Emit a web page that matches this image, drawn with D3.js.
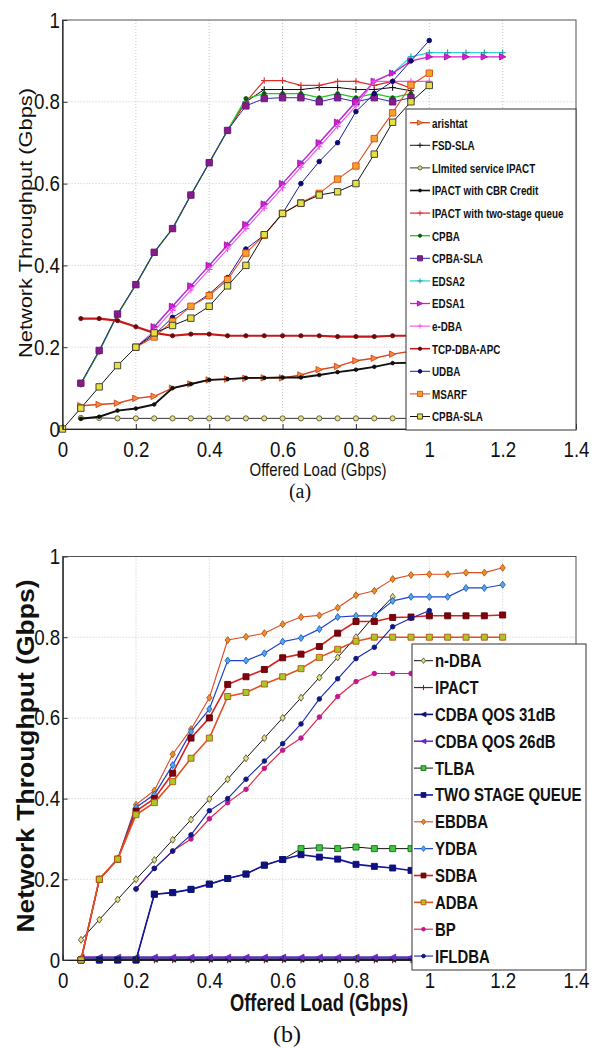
<!DOCTYPE html>
<html><head><meta charset="utf-8">
<script src="https://cdn.jsdelivr.net/npm/d3@7"></script>
<style>
html,body{margin:0;padding:0;background:#fff;}
svg{display:block;}
</style></head><body><svg id="c" width="600" height="1048"></svg>
<script>
// ---------- shared data ----------
const loads = [0,0.05,0.1,0.15,0.2,0.25,0.3,0.35,0.4,0.45,0.5,0.55,0.6,0.65,0.7,0.75,0.8,0.85,0.9,0.95,1.0,1.05,1.1,1.15,1.2];
const xTicks = [0,0.2,0.4,0.6,0.8,1,1.2,1.4];
const xTickLabels = ["0","0.2","0.4","0.6","0.8","1","1.2","1.4"];
const yTicks = [0,0.2,0.4,0.6,0.8,1];
const yTickLabels = ["0","0.2","0.4","0.6","0.8","1"];

// ---------- panel (a) data ----------
const namesA = ["arishtat","FSD-SLA","LImited service IPACT","IPACT with CBR Credit","IPACT with two-stage queue","CPBA","CPBA-SLA","EDSA2","EDSA1","e-DBA","TCP-DBA-APC","UDBA","MSARF","CPBA-SLA"];
const startA = [1,1,1,1,1,1,1,5,5,4,1,4,4,0];
const a_arishtat = [0.057,0.06,0.063,0.075,0.08,0.10,0.11,0.12,0.122,0.124,0.125,0.125,0.132,0.145,0.153,0.167,0.173,0.183,0.19];
const a_fsdsla = [0.11,0.19,0.28,0.353,0.432,0.49,0.572,0.651,0.73,0.80,0.83,0.83,0.83,0.835,0.835,0.83,0.83,0.835,0.827];
const a_limited = [0.027,0.027,0.026,0.026,0.026,0.026,0.026,0.026,0.026,0.026,0.026,0.026,0.026,0.026,0.026,0.026,0.026,0.026,0.026];
const a_cbr = [0.025,0.03,0.045,0.05,0.06,0.10,0.11,0.12,0.122,0.125,0.125,0.126,0.126,0.132,0.139,0.145,0.152,0.161,0.162];
const a_twostage = [0.11,0.19,0.28,0.353,0.432,0.49,0.572,0.651,0.73,0.80,0.852,0.852,0.84,0.84,0.85,0.85,0.84,0.85,0.833];
const a_cpba = [0.11,0.19,0.28,0.353,0.432,0.49,0.572,0.651,0.73,0.808,0.82,0.82,0.82,0.81,0.82,0.81,0.82,0.81,0.82];
const a_cpbasla = [0.112,0.192,0.281,0.353,0.432,0.49,0.572,0.651,0.73,0.79,0.808,0.81,0.81,0.80,0.81,0.80,0.81,0.80,0.81];
const a_edsa2 = [0.25,0.30,0.35,0.40,0.45,0.50,0.55,0.60,0.65,0.70,0.75,0.80,0.85,0.87,0.91,0.92,0.92,0.92,0.92,0.92];
const a_edsa1 = [0.25,0.30,0.35,0.40,0.45,0.50,0.55,0.60,0.65,0.70,0.75,0.80,0.85,0.87,0.90,0.91,0.91,0.91,0.91,0.91];
const a_edba = [0.20,0.24,0.29,0.34,0.39,0.44,0.49,0.54,0.59,0.64,0.69,0.74,0.79,0.85,0.85,0.85,0.85];
const a_tcp = [0.27,0.27,0.265,0.25,0.235,0.228,0.232,0.232,0.228,0.228,0.228,0.228,0.228,0.228,0.226,0.226,0.226,0.228,0.228];
const a_udba = [0.20,0.23,0.273,0.30,0.33,0.37,0.44,0.474,0.527,0.60,0.654,0.70,0.776,0.82,0.85,0.90,0.95];
const a_msarf = [0.20,0.225,0.263,0.30,0.326,0.365,0.43,0.474,0.527,0.553,0.576,0.611,0.643,0.71,0.773,0.841,0.87];
const a_cpbasla2 = [0,0.051,0.103,0.155,0.2,0.235,0.253,0.271,0.30,0.35,0.40,0.475,0.527,0.552,0.572,0.58,0.60,0.672,0.75,0.80,0.84];
const valuesA = [a_arishtat,a_fsdsla,a_limited,a_cbr,a_twostage,a_cpba,a_cpbasla,a_edsa2,a_edsa1,a_edba,a_tcp,a_udba,a_msarf,a_cpbasla2];

// ---------- panel (b) data ----------
const namesB = ["n-DBA","IPACT","CDBA QOS 31dB","CDBA QOS 26dB","TLBA","TWO STAGE QUEUE","EBDBA","YDBA","SDBA","ADBA","BP","IFLDBA"];
const startB = [1,1,1,1,1,1,1,1,1,1,4,4];
const b_ndba = [0.05,0.10,0.15,0.20,0.248,0.298,0.348,0.399,0.448,0.50,0.55,0.60,0.65,0.70,0.75,0.80,0.853,0.90];
const b_ipact = [0,0,0,0,0,0,0,0,0,0,0,0,0,0,0,0,0,0,0];
const b_cdba31 = [0.002,0.002,0.002,0.002,0.002,0.002,0.002,0.002,0.002,0.002,0.002,0.002,0.002,0.002,0.002,0.002,0.002,0.002,0.002];
const b_cdba26 = [0.007,0.007,0.007,0.007,0.007,0.007,0.007,0.007,0.007,0.007,0.007,0.007,0.007,0.007,0.007,0.007,0.007,0.007,0.007];
const b_tlba = [0,0,0,0,0.163,0.167,0.175,0.188,0.202,0.213,0.235,0.249,0.276,0.278,0.276,0.28,0.276,0.276,0.276];
const b_twostage = [0,0,0,0,0.163,0.167,0.175,0.188,0.202,0.213,0.235,0.249,0.261,0.255,0.25,0.237,0.232,0.228,0.222];
const b_ebdba = [0,0.20,0.25,0.385,0.42,0.51,0.572,0.65,0.793,0.801,0.81,0.832,0.85,0.854,0.873,0.904,0.915,0.944,0.954,0.956,0.956,0.96,0.96,0.972];
const b_ydba = [0,0.20,0.25,0.378,0.41,0.483,0.566,0.622,0.742,0.742,0.76,0.789,0.798,0.82,0.85,0.853,0.853,0.89,0.90,0.90,0.90,0.922,0.922,0.93];
const b_sdba = [0,0.20,0.25,0.369,0.40,0.463,0.55,0.60,0.683,0.702,0.72,0.749,0.758,0.777,0.81,0.839,0.839,0.849,0.85,0.853,0.853,0.853,0.853,0.855];
const b_adba = [0,0.20,0.25,0.36,0.39,0.442,0.50,0.55,0.653,0.663,0.684,0.702,0.722,0.75,0.77,0.79,0.80,0.80,0.80,0.80,0.80,0.80,0.80,0.80];
const b_bp = [0.176,0.227,0.27,0.30,0.35,0.39,0.423,0.475,0.52,0.55,0.602,0.653,0.69,0.71,0.71,0.71];
const b_ifldba = [0.176,0.227,0.27,0.31,0.37,0.40,0.448,0.493,0.536,0.585,0.647,0.697,0.747,0.775,0.826,0.847,0.866];
const valuesB = [b_ndba,b_ipact,b_cdba31,b_cdba26,b_tlba,b_twostage,b_ebdba,b_ydba,b_sdba,b_adba,b_bp,b_ifldba];

// ---------- styles ----------
const styleA = [
  {c:'#d9461c', w:1.4, m:'triR', mf:'#f08a3c', ms:'#d9461c', s:3.2},
  {c:'#111', w:1, m:'plus', mf:'none', ms:'#111', s:3.2},
  {c:'#333', w:1, m:'circle', mf:'#e8e070', ms:'#555', s:2.6},
  {c:'#111', w:1.9, m:'dot', mf:'#111', ms:'#111', s:1.8},
  {c:'#e02a2a', w:1.2, m:'plus', mf:'none', ms:'#e02a2a', s:3.2},
  {c:'#1ec81e', w:1.3, m:'dot', mf:'#0a5a0a', ms:'#0a5a0a', s:2},
  {c:'#2a2ab0', w:1, m:'square', mf:'#8a1a8a', ms:'#5a1a7a', s:3.2},
  {c:'#33d6d6', w:1.3, m:'plus', mf:'none', ms:'#1a9a9a', s:3.2},
  {c:'#d41ed4', w:1.3, m:'triR', mf:'#d41ed4', ms:'#b010b0', s:3.2},
  {c:'#f050f0', w:1.1, m:'plus', mf:'none', ms:'#f050f0', s:3.2},
  {c:'#c81818', w:2.2, m:'dot', mf:'#6a0a0a', ms:'#6a0a0a', s:2.1},
  {c:'#1a1aa0', w:1, m:'dot', mf:'#0a0a70', ms:'#0a0a70', s:2.3},
  {c:'#e0501e', w:1.1, m:'square', mf:'#f5a030', ms:'#d05010', s:3.2},
  {c:'#111', w:1, m:'square', mf:'#e8e040', ms:'#333', s:3.2}
];
const styleB = [
  {c:'#111', w:1, m:'diamond', mf:'#e8e070', ms:'#555', s:2.6},
  {c:'#7a1020', w:1.2, m:'plus', mf:'none', ms:'#7a1020', s:3.2},
  {c:'#101070', w:1.8, m:'triL', mf:'#101070', ms:'#101070', s:3},
  {c:'#6a2ac0', w:1.8, m:'triL', mf:'#6a2ac0', ms:'#6a2ac0', s:3},
  {c:'#111', w:1, m:'square', mf:'#3ec83e', ms:'#1a6a1a', s:3},
  {c:'#1414a0', w:1.6, m:'square', mf:'#101080', ms:'#101080', s:3},
  {c:'#e04a20', w:1.1, m:'diamond', mf:'#e8902a', ms:'#c05010', s:2.6},
  {c:'#2040d0', w:1.2, m:'diamond', mf:'#50a8e8', ms:'#2060c0', s:2.6},
  {c:'#d82020', w:1.6, m:'square', mf:'#800010', ms:'#600000', s:3},
  {c:'#e05020', w:1.6, m:'square', mf:'#a8c828', ms:'#c05010', s:3},
  {c:'#e02848', w:1.2, m:'dot', mf:'#c01890', ms:'#c01890', s:2.3},
  {c:'#1828a8', w:1.1, m:'dot', mf:'#101880', ms:'#101880', s:2.3}
];

const SANS = '"Liberation Sans",Arial,sans-serif';
const SERIF = '"Liberation Serif","DejaVu Serif",serif';

function markerPath(type, s) {
  switch (type) {
    case 'plus': return `M${-s},0H${s}M0,${-s}V${s}`;
    case 'triR': return `M${-s},${-s}L${s},0L${-s},${s}Z`;
    case 'triL': return `M${s},${-s}L${-s},0L${s},${s}Z`;
    case 'square': return `M${-s},${-s}H${s}V${s}H${-s}Z`;
    case 'diamond': return `M0,${-s*1.35}L${s},0L0,${s*1.35}L${-s},0Z`;
    default: return `M${s},0A${s},${s} 0 1,1 ${-s},0A${s},${s} 0 1,1 ${s},0Z`;
  }
}

const svg = d3.select('#c');

function drawPanel(cfg) {
  const x = d3.scaleLinear().domain([0, 1.4]).range([cfg.left, cfg.right]);
  const y = d3.scaleLinear().domain([0, 1]).range([cfg.bottom, cfg.top]);
  const g = svg.append('g');

  const grid = g.append('g');
  grid.selectAll('line.gx').data(xTicks.slice(1, -1)).enter().append('line')
    .attr('x1', d => x(d)).attr('x2', d => x(d)).attr('y1', cfg.top).attr('y2', cfg.bottom)
    .attr('stroke', '#b8b8b8').attr('stroke-width', 0.8).attr('stroke-dasharray', '1,2');
  grid.selectAll('line.gy').data(yTicks.slice(1, -1)).enter().append('line')
    .attr('x1', cfg.left).attr('x2', cfg.right).attr('y1', d => y(d)).attr('y2', d => y(d))
    .attr('stroke', '#b8b8b8').attr('stroke-width', 0.8).attr('stroke-dasharray', '1,2');

  g.append('rect').attr('x', cfg.left).attr('y', cfg.top)
    .attr('width', cfg.right - cfg.left).attr('height', cfg.bottom - cfg.top)
    .attr('fill', 'none').attr('stroke', '#555').attr('stroke-width', 1);

  const line = d3.line().x(d => x(d[0])).y(d => y(d[1]));
  cfg.values.forEach((vals, k) => {
    const st = cfg.styles[k];
    const pts = vals.map((v, i) => [loads[cfg.starts[k] + i], v]);
    const sg = g.append('g');
    sg.append('path').attr('d', line(pts)).attr('fill', 'none')
      .attr('stroke', st.c).attr('stroke-width', st.w).attr('stroke-linejoin', 'round');
    sg.selectAll('path.m').data(pts).enter().append('path')
      .attr('transform', d => `translate(${x(d[0])},${y(d[1])})`)
      .attr('d', markerPath(st.m, st.s))
      .attr('fill', st.mf).attr('stroke', st.ms).attr('stroke-width', st.m === 'plus' ? 1.1 : 0.9);
  });

  const xa = d3.axisBottom(x).tickValues(xTicks).tickFormat((d, i) => xTickLabels[i])
    .tickSizeInner(-5).tickSizeOuter(0).tickPadding(cfg.xPad);
  const ya = d3.axisLeft(y).tickValues(yTicks).tickFormat((d, i) => yTickLabels[i])
    .tickSizeInner(-5).tickSizeOuter(0).tickPadding(3);
  const gx = g.append('g').attr('transform', `translate(0,${cfg.bottom})`).call(xa);
  const gy = g.append('g').attr('transform', `translate(${cfg.left},0)`).call(ya);
  [gx, gy].forEach(a => {
    a.select('.domain').attr('stroke', '#222').attr('stroke-width', 1.2);
    a.selectAll('.tick line').attr('stroke', '#333');
    a.selectAll('text').attr('font-family', SANS).attr('font-size', cfg.tickFont).attr('fill', '#111')
      .attr('transform', `scale(${cfg.tickScale},1)`);
  });

  const lg = g.append('g');
  lg.append('rect').attr('x', cfg.leg.x).attr('y', cfg.leg.y).attr('width', cfg.leg.w).attr('height', cfg.leg.h)
    .attr('fill', '#fff').attr('stroke', '#333').attr('stroke-width', 1);
  cfg.names.forEach((nm, k) => {
    const st = cfg.styles[k];
    const yy = cfg.leg.y0 + k * cfg.leg.dy;
    lg.append('line').attr('x1', cfg.leg.lx1).attr('x2', cfg.leg.lx2).attr('y1', yy).attr('y2', yy)
      .attr('stroke', st.c).attr('stroke-width', Math.min(st.w, 1.6));
    lg.append('path').attr('transform', `translate(${(cfg.leg.lx1 + cfg.leg.lx2) / 2},${yy})`)
      .attr('d', markerPath(st.m, st.s * 0.8)).attr('fill', st.mf).attr('stroke', st.ms).attr('stroke-width', 0.9);
    lg.append('text').attr('transform', `translate(${cfg.leg.tx},${yy}) scale(${cfg.leg.sx},1)`)
      .attr('dy', '0.36em')
      .attr('font-family', SANS).attr('font-weight', 'bold').attr('font-size', cfg.leg.fs)
      .attr('fill', '#111').text(nm);
  });
  return {x, y};
}

drawPanel({
  left: 62.5, right: 576, top: 20, bottom: 429, xPad: 12, tickFont: 22, tickScale: 0.85,
  names: namesA, starts: startA, values: valuesA, styles: styleA,
  leg: {x: 406, y: 109, w: 170, h: 321, y0: 122.7, dy: 22.6, lx1: 410, lx2: 430, tx: 432, fs: 13.5, sx: 0.73}
});
drawPanel({
  left: 62.7, right: 576, top: 556.5, bottom: 960, xPad: 12, tickFont: 22, tickScale: 0.85,
  names: namesB, starts: startB, values: valuesB, styles: styleB,
  leg: {x: 412, y: 644, w: 174, h: 326, y0: 660.7, dy: 26.85, lx1: 414, lx2: 433, tx: 435, fs: 18, sx: 0.83}
});

svg.append('text').attr('transform', 'translate(32,223) rotate(-90)').attr('text-anchor', 'middle')
  .attr('font-family', SANS).attr('font-size', 19).attr('fill', '#111')
  .attr('textLength', 270).attr('lengthAdjust', 'spacingAndGlyphs').text('Network Throughput (Gbps)');
svg.append('text').attr('x', 318).attr('y', 476).attr('text-anchor', 'middle')
  .attr('font-family', SANS).attr('font-size', 19).attr('fill', '#111')
  .attr('textLength', 137).attr('lengthAdjust', 'spacingAndGlyphs').text('Offered Load (Gbps)');
svg.append('text').attr('x', 300).attr('y', 498).attr('text-anchor', 'middle')
  .attr('font-family', SERIF).attr('font-size', 20).attr('fill', '#111').text('(a)');

svg.append('text').attr('transform', 'translate(34,756) rotate(-90)').attr('text-anchor', 'middle')
  .attr('font-family', SANS).attr('font-weight', 'bold').attr('font-size', 24).attr('fill', '#111')
  .attr('textLength', 353).attr('lengthAdjust', 'spacingAndGlyphs').text('Network Throughput (Gbps)');
svg.append('text').attr('x', 319).attr('y', 1011).attr('text-anchor', 'middle')
  .attr('font-family', SANS).attr('font-weight', 'bold').attr('font-size', 23).attr('fill', '#111')
  .attr('textLength', 178).attr('lengthAdjust', 'spacingAndGlyphs').text('Offered Load (Gbps)');
svg.append('text').attr('x', 287).attr('y', 1042).attr('text-anchor', 'middle')
  .attr('font-family', SERIF).attr('font-size', 24).attr('fill', '#111').text('(b)');
</script></body></html>
